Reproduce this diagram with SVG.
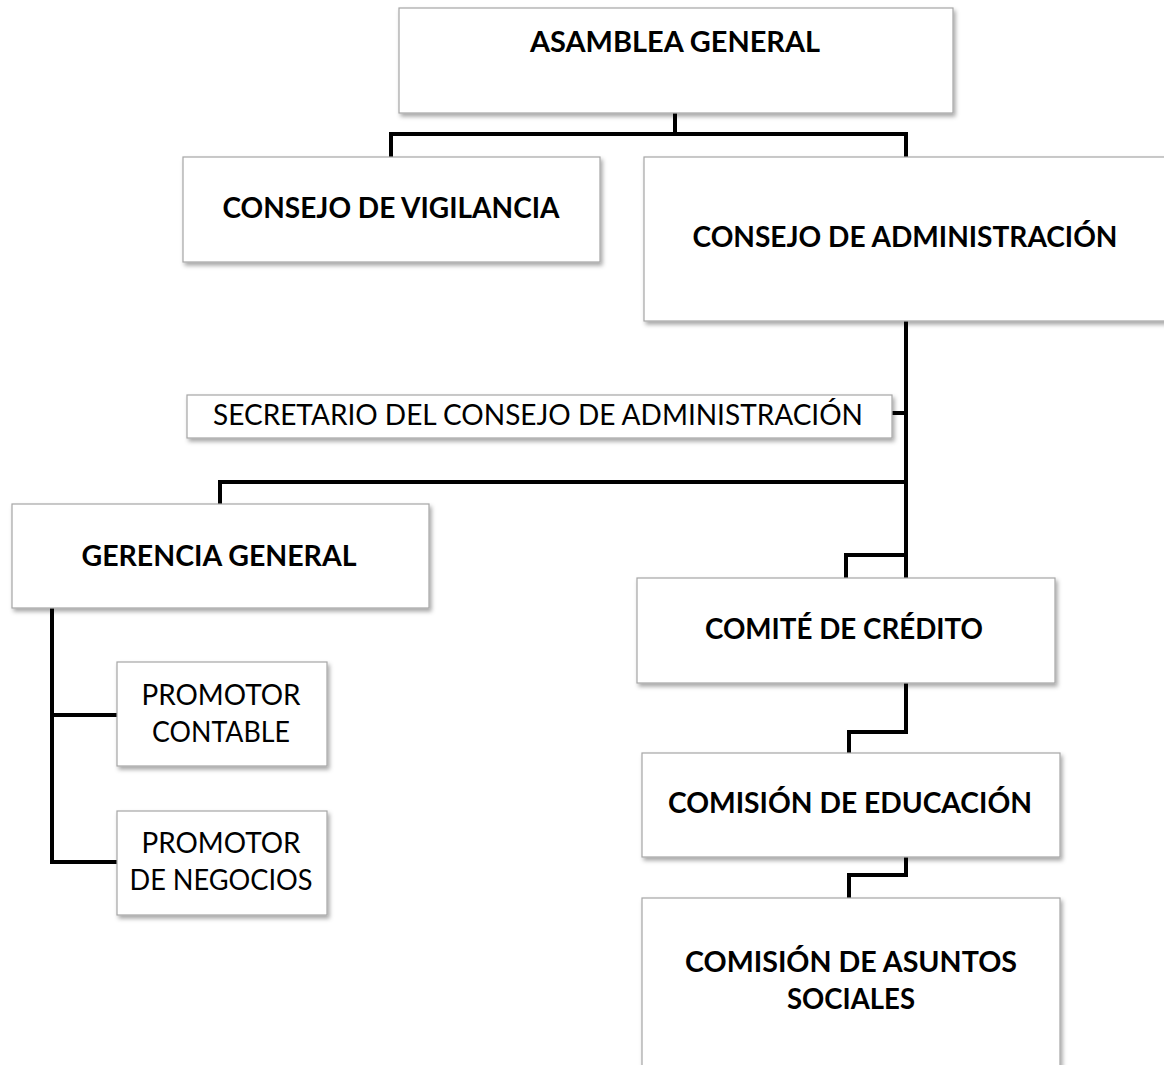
<svg xmlns="http://www.w3.org/2000/svg" width="1164" height="1065" viewBox="0 0 1164 1065">
<defs>
<filter id="sh" x="-5%" y="-5%" width="115%" height="125%">
<feDropShadow dx="2" dy="3" stdDeviation="2" flood-color="#000" flood-opacity="0.35"/>
</filter>
</defs>
<style>
.box{fill:#fff;stroke:#a6a6a6;stroke-width:1.2;filter:url(#sh)}
.b{font-family:Lato,"Open Sans","Liberation Sans",sans-serif;font-weight:bold;font-size:28px;fill:#000;text-anchor:middle}
.r{font-family:Lato,"Open Sans","Liberation Sans",sans-serif;font-weight:normal;font-size:28px;fill:#000;text-anchor:middle}
.c{fill:none;stroke:#000;stroke-width:4;stroke-linejoin:miter;stroke-linecap:square}
</style>
<rect width="1164" height="1065" fill="#fff"/>
<g id="connectors">
<path class="c" d="M675 113 V134 M391 157 V134 H906 V157"/>
<path class="c" d="M906 321 V578 M892 413 H906 M220 504 V482 H906 M846 578 V555 H906"/>
<path class="c" d="M52 608 V862 H117 M52 715 H117"/>
<path class="c" d="M906 683 V732 H849 V753"/>
<path class="c" d="M906 857 V875 H849 V898"/>
</g>
<g id="asamblea">
<rect class="box" x="399" y="8" width="554" height="105"/>
<text class="b" x="675" y="52" textLength="290" lengthAdjust="spacingAndGlyphs">ASAMBLEA GENERAL</text>
</g>
<g id="vigilancia">
<rect class="box" x="183" y="157" width="417" height="105"/>
<text class="b" x="391" y="218" textLength="337" lengthAdjust="spacingAndGlyphs">CONSEJO DE VIGILANCIA</text>
</g>
<g id="administracion">
<rect class="box" x="644" y="157" width="530" height="164"/>
<text class="b" x="905" y="247" textLength="425" lengthAdjust="spacingAndGlyphs">CONSEJO DE ADMINISTRACIÓN</text>
</g>
<g id="secretario">
<rect class="box" x="187" y="395" width="705" height="43"/>
<text class="r" x="538" y="425" font-size="25" textLength="650" lengthAdjust="spacingAndGlyphs">SECRETARIO DEL CONSEJO DE ADMINISTRACIÓN</text>
</g>
<g id="gerencia">
<rect class="box" x="12" y="504" width="417" height="104"/>
<text class="b" x="219" y="566" textLength="275" lengthAdjust="spacingAndGlyphs">GERENCIA GENERAL</text>
</g>
<g id="promotor-contable">
<rect class="box" x="117" y="662" width="210" height="104"/>
<text class="r" x="221" y="705" textLength="159" lengthAdjust="spacingAndGlyphs">PROMOTOR</text>
<text class="r" x="221" y="742" textLength="138" lengthAdjust="spacingAndGlyphs">CONTABLE</text>
</g>
<g id="promotor-negocios">
<rect class="box" x="117" y="811" width="210" height="104"/>
<text class="r" x="221" y="853" textLength="159" lengthAdjust="spacingAndGlyphs">PROMOTOR</text>
<text class="r" x="221" y="890" textLength="183" lengthAdjust="spacingAndGlyphs">DE NEGOCIOS</text>
</g>
<g id="credito">
<rect class="box" x="637" y="578" width="418" height="105"/>
<text class="b" x="844" y="639" textLength="278" lengthAdjust="spacingAndGlyphs">COMITÉ DE CRÉDITO</text>
</g>
<g id="educacion">
<rect class="box" x="642" y="753" width="418" height="104"/>
<text class="b" x="850" y="813" textLength="364" lengthAdjust="spacingAndGlyphs">COMISIÓN DE EDUCACIÓN</text>
</g>
<g id="asuntos">
<rect class="box" x="642" y="898" width="418" height="180"/>
<text class="b" x="851" y="972" textLength="332" lengthAdjust="spacingAndGlyphs">COMISIÓN DE ASUNTOS</text>
<text class="b" x="851" y="1009" textLength="128" lengthAdjust="spacingAndGlyphs">SOCIALES</text>
</g>
</svg>
